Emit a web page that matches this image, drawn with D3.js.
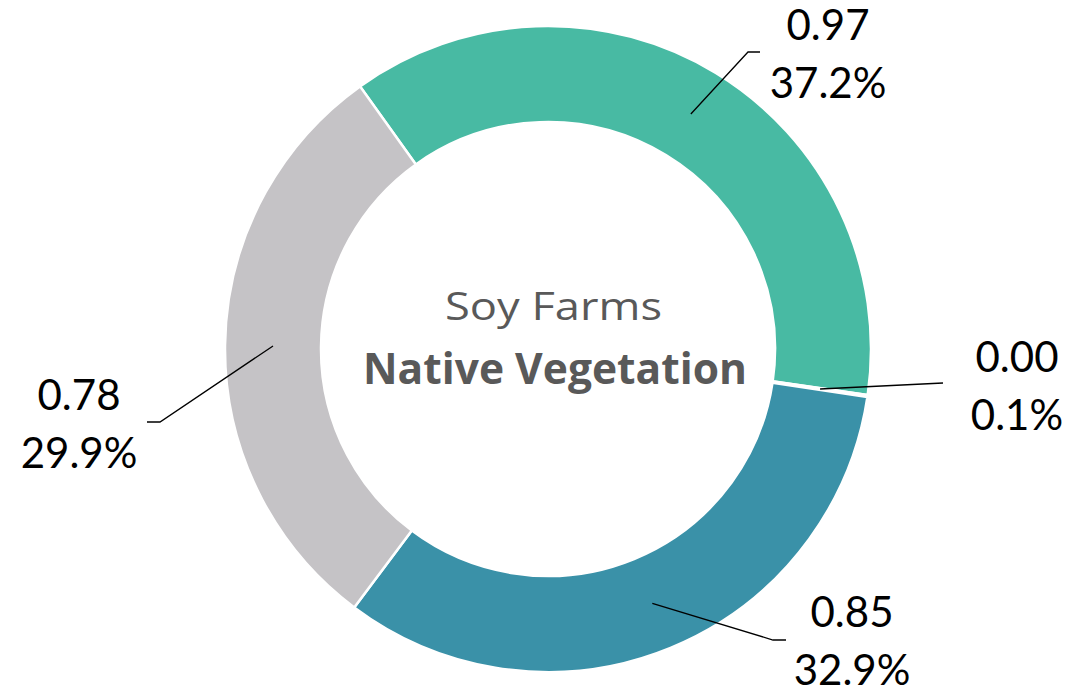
<!DOCTYPE html>
<html><head><meta charset="utf-8">
<script src="https://cdn.jsdelivr.net/npm/d3@7"></script>
<style>html,body{margin:0;padding:0;background:#fff;}</style>
</head><body>
<svg id="chart" width="1084" height="694"></svg>
<script>
// data
const categories = ["Green", "Tiny", "Blue", "Gray"];
const values = [0.97, 0.00, 0.85, 0.78];
const shares = [37.2, 0.1, 32.9, 29.9];
const valueLabels = ["0.97", "0.00", "0.85", "0.78"];
const shareLabels = ["37.2%", "0.1%", "32.9%", "29.9%"];
const colors = ["#48BAA3", "#2F7D92", "#3A91A8", "#C5C3C6"];

// layout (label anchors and leader elbows, in pixels)
const labelLayout = [
  {x: 828, y: 40, elbow: [748, 52], end: [760, 52]},
  {x: 1017, y: 372, elbow: null, end: [943, 383]},
  {x: 852, y: 627, elbow: [773, 640], end: [786, 640]},
  {x: 79, y: 410, elbow: [160, 422], end: [147, 422]}
];

const svg = d3.select("#chart");
const cx = 548, cy = 349, R = 323, r = 227;
const start = -35.6 * Math.PI / 180;
const g = svg.append("g").attr("transform", `translate(${cx},${cy})`);

const pie = d3.pie().sort(null).value(d => d)
  .startAngle(start).endAngle(start + 2 * Math.PI);
const arcs = pie(shares);
const arc = d3.arc().innerRadius(r).outerRadius(R);

g.selectAll("path.slice").data(arcs).join("path")
  .attr("class", "slice")
  .attr("d", arc)
  .attr("fill", (d, i) => colors[i])
  .attr("stroke", "#fff").attr("stroke-width", 2.5);

const midR = 275;
arcs.forEach((d, i) => {
  const a = (d.startAngle + d.endAngle) / 2;
  const p0 = [cx + midR * Math.sin(a), cy - midR * Math.cos(a)];
  const L = labelLayout[i];
  const pts = [p0];
  if (L.elbow) pts.push(L.elbow);
  pts.push(L.end);
  svg.append("path")
    .attr("d", d3.line()(pts))
    .attr("fill", "none").attr("stroke", "#000").attr("stroke-width", 1.3);
  const t = svg.append("text")
    .attr("text-anchor", "middle")
    .attr("font-family", "Lato, 'Open Sans', sans-serif")
    .attr("font-size", 42).attr("fill", "#000");
  t.append("tspan").attr("x", L.x).attr("y", L.y).text(valueLabels[i]);
  t.append("tspan").attr("x", L.x).attr("y", L.y + 58).text(shareLabels[i]);
});

svg.append("text").attr("x", 553.5).attr("y", 320)
  .attr("text-anchor", "middle")
  .attr("font-family", "'Open Sans', sans-serif")
  .attr("font-size", 39).attr("fill", "#595959")
  .attr("textLength", 217).attr("lengthAdjust", "spacingAndGlyphs")
  .text("Soy Farms");
svg.append("text").attr("x", 555).attr("y", 384)
  .attr("text-anchor", "middle")
  .attr("font-family", "'Open Sans', sans-serif")
  .attr("font-weight", "bold")
  .attr("font-size", 43).attr("fill", "#595959")
  .attr("textLength", 384).attr("lengthAdjust", "spacingAndGlyphs")
  .text("Native Vegetation");
</script>
</body></html>
